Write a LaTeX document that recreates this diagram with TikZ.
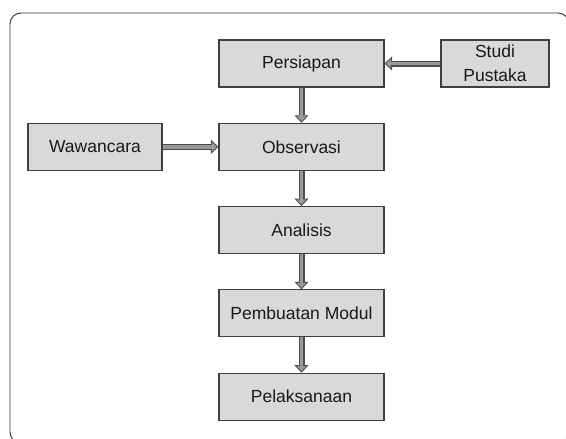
\documentclass[tikz,border=0pt]{standalone}
\usepackage{fontspec}
\setmainfont{Liberation Sans}
\usetikzlibrary{arrows.meta}

\begin{document}
\begin{tikzpicture}[x=1pt,y=-1pt,
  box/.style={rectangle,draw=black!75,line width=1.1pt,fill=black!15,minimum height=47pt,inner sep=2pt,align=center,text=black!90,font=\fontsize{17.5}{24}\selectfont},
  flow/.style={draw=black!70,line width=6pt,-{Triangle[length=7.5pt,width=14pt,fill=black!40,line width=0.9pt]},postaction={draw=black!40,line width=3.8pt,-,shorten >=6.5pt}}]

\useasboundingbox (0,0) rectangle (566,439);
\clip (0,0) rectangle (566,439);

% frame
\draw[black!80,line width=0.9pt,rounded corners=11pt] (10,13) rectangle (569,443);

\node(persiapan) at (301.5,63.5)[box,minimum width=165pt] {Persiapan};
\node(studi) at (495,63.5)[box,minimum width=108pt] {Studi\\Pustaka};
\node(wawancara) at (95,146.8)[box,minimum width=134pt] {Wawancara};
\node(observasi) at (301.5,146.8)[box,minimum width=165pt] {Observasi};
\node(analisis) at (301.5,230.1)[box,minimum width=165pt] {Analisis};
\node(modul) at (301.5,313.4)[box,minimum width=165pt] {Pembuatan Modul};
\node(pelaksanaan) at (301.5,396.7)[box,minimum width=165pt] {Pelaksanaan};

\draw[flow] (studi) -- (persiapan);
\draw[flow] (wawancara) -- (observasi);
\draw[flow] (persiapan) -- (observasi);
\draw[flow] (observasi) -- (analisis);
\draw[flow] (analisis) -- (modul);
\draw[flow] (modul) -- (pelaksanaan);

\end{tikzpicture}
\end{document}
